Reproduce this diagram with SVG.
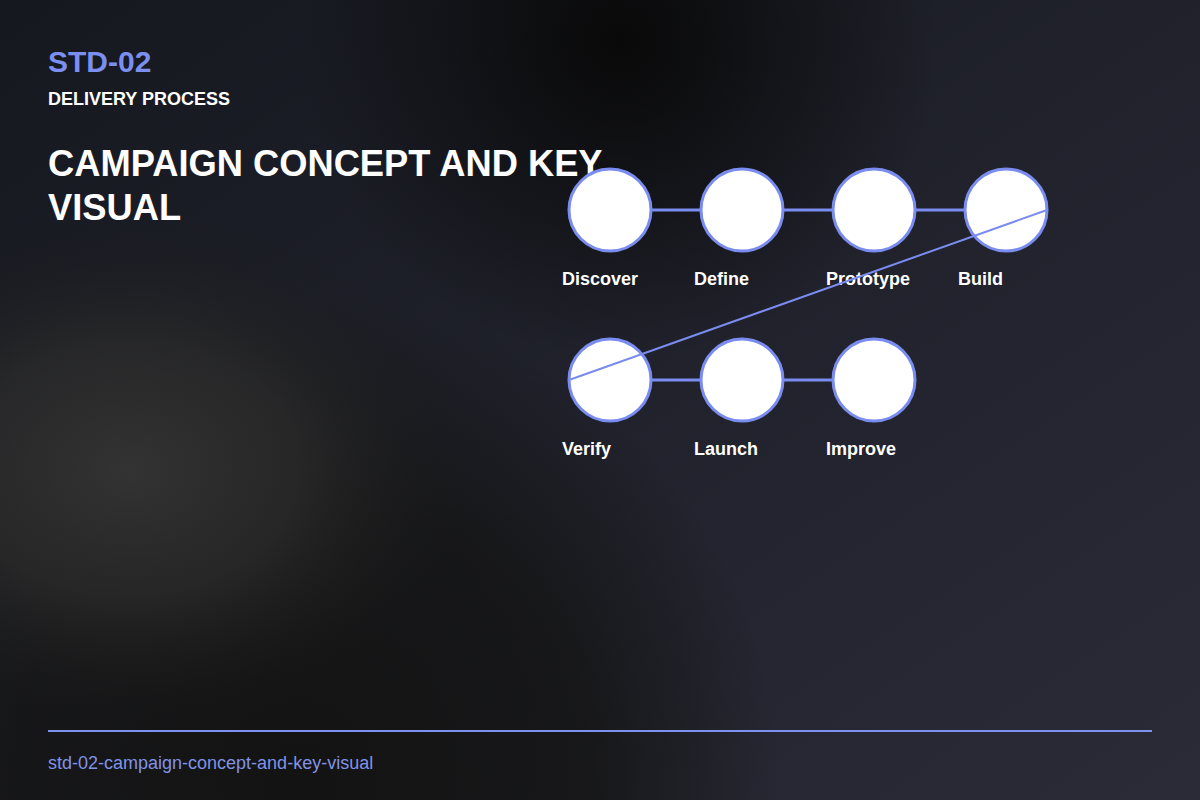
<svg xmlns="http://www.w3.org/2000/svg" width="1200" height="800" viewBox="0 0 1200 800">
<defs>
<linearGradient id="bg" x1="0" y1="0" x2="1" y2="1">
<stop offset="0" stop-color="#161820"/>
<stop offset="1" stop-color="#2a2b37"/>
</linearGradient>
<radialGradient id="blob" cx="130" cy="470" r="340" gradientUnits="userSpaceOnUse" gradientTransform="translate(130 470) scale(1 0.75) translate(-130 -470)">
<stop offset="0" stop-color="#333333" stop-opacity="1"/>
<stop offset="0.5" stop-color="#2a2a2a" stop-opacity="0.8"/>
<stop offset="1" stop-color="#1a1a1a" stop-opacity="0"/>
</radialGradient>
<radialGradient id="dark" cx="620" cy="40" r="320" gradientUnits="userSpaceOnUse">
<stop offset="0" stop-color="#090909" stop-opacity="1"/>
<stop offset="1" stop-color="#0a0a0a" stop-opacity="0"/>
</radialGradient>
<radialGradient id="darkbl" cx="300" cy="780" r="480" gradientUnits="userSpaceOnUse">
<stop offset="0" stop-color="#131313" stop-opacity="1"/>
<stop offset="0.6" stop-color="#141414" stop-opacity="0.8"/>
<stop offset="1" stop-color="#141414" stop-opacity="0"/>
</radialGradient>
<style>
.node circle{fill:#ffffff;stroke:#7b8cf0;stroke-width:3}
.lbl{font-family:"Liberation Sans",Arial,sans-serif;font-weight:bold;font-size:18px;fill:#ffffff}
.edge{stroke:#7b8cf0;fill:none}
</style>
</defs>
<rect width="1200" height="800" fill="url(#bg)"/>
<rect width="1200" height="800" fill="url(#darkbl)"/>
<rect width="1200" height="800" fill="url(#blob)"/>
<rect width="1200" height="800" fill="url(#dark)"/>
<text x="48" y="72" font-family="Liberation Sans,Arial,sans-serif" font-weight="bold" font-size="30" fill="#7b8ff0">STD-02</text>
<text x="48" y="105" font-family="Liberation Sans,Arial,sans-serif" font-weight="bold" font-size="18" fill="#ffffff">DELIVERY PROCESS</text>
<text font-family="Liberation Sans,Arial,sans-serif" font-weight="bold" font-size="36.3" fill="#ffffff"><tspan x="48" y="176">CAMPAIGN CONCEPT AND KEY</tspan><tspan x="48" y="220">VISUAL</tspan></text>
<g id="node-discover" class="node"><circle cx="610" cy="210" r="41"/><text class="lbl" x="562" y="285">Discover</text></g>
<g id="node-define" class="node"><circle cx="742" cy="210" r="41"/><text class="lbl" x="694" y="285">Define</text></g>
<g id="node-prototype" class="node"><circle cx="874" cy="210" r="41"/><text class="lbl" x="826" y="285">Prototype</text></g>
<g id="node-build" class="node"><circle cx="1006" cy="210" r="41"/><text class="lbl" x="958" y="285">Build</text></g>
<g id="node-verify" class="node"><circle cx="610" cy="380" r="41"/><text class="lbl" x="562" y="455">Verify</text></g>
<g id="node-launch" class="node"><circle cx="742" cy="380" r="41"/><text class="lbl" x="694" y="455">Launch</text></g>
<g id="node-improve" class="node"><circle cx="874" cy="380" r="41"/><text class="lbl" x="826" y="455">Improve</text></g>
<g id="connectors">
<line class="edge" stroke-width="3" x1="651" y1="210" x2="701" y2="210"/>
<line class="edge" stroke-width="3" x1="783" y1="210" x2="833" y2="210"/>
<line class="edge" stroke-width="3" x1="915" y1="210" x2="965" y2="210"/>
<line class="edge" stroke-width="2" x1="1047" y1="210" x2="569" y2="380"/>
<line class="edge" stroke-width="3" x1="651" y1="380" x2="701" y2="380"/>
<line class="edge" stroke-width="3" x1="783" y1="380" x2="833" y2="380"/>
</g>
<line x1="48" y1="731" x2="1152" y2="731" stroke="#8090ee" stroke-width="2"/>
<text x="48" y="769" font-family="Liberation Sans,Arial,sans-serif" font-size="18" fill="#8093e6">std-02-campaign-concept-and-key-visual</text>
</svg>
